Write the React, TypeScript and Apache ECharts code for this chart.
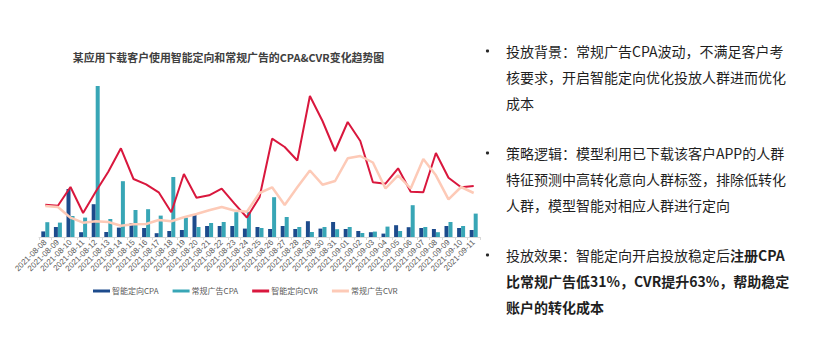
import React, { useEffect, useRef } from "react";
import * as echarts from "echarts";

const categories = [
  "2021-08-08", "2021-08-09", "2021-08-10", "2021-08-11", "2021-08-12", "2021-08-13", "2021-08-14",
  "2021-08-15", "2021-08-16", "2021-08-17", "2021-08-18", "2021-08-19", "2021-08-20", "2021-08-21",
  "2021-08-22", "2021-08-23", "2021-08-24", "2021-08-25", "2021-08-26", "2021-08-27", "2021-08-28",
  "2021-08-29", "2021-08-30", "2021-08-31", "2021-09-01", "2021-09-02", "2021-09-03", "2021-09-04",
  "2021-09-05", "2021-09-06", "2021-09-07", "2021-09-08", "2021-09-09", "2021-09-10", "2021-09-11",
];

const smartCPA = [
  2.8, 5, 24, 2.4, 16.4, 2.5, 4.7, 6.9, 4.5, 1.9, 3, 3.5, 11, 5.5, 5.5, 5.5, 4.2, 5, 4, 5.5, 4, 7.9,
  4.2, 7.5, 4, 3, 2.4, 1.7, 5.9, 4.9, 4.5, 4, 5.5, 4.5, 3.5,
];
const normalCPA = [
  7.4, 7.2, 10.5, 9.7, 75.5, 9, 27.9, 13.5, 13.9, 10.7, 30, 9.7, 5, 7, 7.5, 12.4, 12.5, 4.5, 19.9, 10,
  5, 2.5, 5, 3.9, 5, 2, 2.7, 5.2, 3, 15.9, 5, 2.4, 7.5, 5.5, 11.7,
];
const smartCVR = [
  3.23, 3.13, 5.0, 2.4, 4.53, 6.53, 8.87, 5.8, 5.27, 4.47, 2.47, 6.3, 3.93, 4.17, 4.83, 3.37, 1.95,
  3.97, 9.83, 9.0, 7.65, 14.1, 11.6, 8.6, 11.5, 9.6, 5.47, 5.33, 6.87, 4.53, 4.47, 8.4, 5.93, 4.97, 5.1,
];
const normalCVR = [
  3.1, 3.0, 1.93, 1.43, 1.57, 1.5, 1.13, 1.27, 1.3, 1.7, 1.57, 1.97, 2.3, 2.67, 3.0, 2.65, 2.53, 4.4,
  4.97, 3.2, 4.97, 6.65, 5.23, 5.6, 7.87, 8.1, 7.45, 4.85, 6.17, 4.85, 7.8, 6.17, 3.77, 5.0, 4.4,
];

const seriesNames = ["智能定向CPA", "常规广告CPA", "智能定向CVR", "常规广告CVR"];
const chartTitle = "某应用下载客户使用智能定向和常规广告的CPA&CVR变化趋势图";

const notes: { text: string; bullet: boolean; bold?: boolean; rich?: boolean }[] = [
  { text: "投放背景：常规广告CPA波动，不满足客户考", bullet: true },
  { text: "核要求，开启智能定向优化投放人群进而优化", bullet: false },
  { text: "成本", bullet: false },
  { text: "策略逻辑：模型利用已下载该客户APP的人群", bullet: true },
  { text: "特征预测中高转化意向人群标签，排除低转化", bullet: false },
  { text: "人群，模型智能对相应人群进行定向", bullet: false },
  { text: "{n|投放效果：智能定向开启投放稳定后}{b|注册CPA}", bullet: true, rich: true },
  { text: "比常规广告低31%，CVR提升63%，帮助稳定", bullet: false, bold: true },
  { text: "账户的转化成本", bullet: false, bold: true },
];
const noteY = [51, 77, 103, 153, 179, 205, 255, 281, 307];

const FONT = "'Noto Sans CJK SC', 'Noto Sans', sans-serif";

export default function App() {
  const ref = useRef<HTMLDivElement>(null);
  useEffect(() => {
    if (!ref.current) return;
    const chart = echarts.init(ref.current, undefined, { renderer: "svg" });
    const graphics: any[] = [
      {
        type: "text",
        x: 228.5,
        y: 57,
        style: {
          text: chartTitle,
          font: `bold 10.9px ${FONT}`,
          fill: "#404040",
          textAlign: "center",
          textVerticalAlign: "middle",
        },
      },
    ];
    notes.forEach((n, i) => {
      if (n.bullet) {
        graphics.push({
          type: "circle",
          shape: { cx: 487.5, cy: noteY[i], r: 1.6 },
          style: { fill: "#262626" },
        });
      }
      const style: any = {
        text: n.text,
        font: `${n.bold ? "bold " : ""}14px ${FONT}`,
        fill: "#1f1f1f",
        textAlign: "left",
        textVerticalAlign: "middle",
      };
      if (n.rich) {
        style.rich = {
          n: { font: `14px ${FONT}`, fill: "#1f1f1f" },
          b: { font: `bold 14px ${FONT}`, fill: "#1f1f1f" },
        };
      }
      graphics.push({ type: "text", x: 506, y: noteY[i], style });
    });

    chart.setOption({
      animation: false,
      backgroundColor: "#ffffff",
      grid: { left: 39, right: 335, top: 77, bottom: 118, containLabel: false },
      legend: {
        data: seriesNames,
        left: 93,
        top: 287,
        icon: "rect",
        itemWidth: 17,
        itemHeight: 3,
        itemGap: 14,
        padding: 0,
        textStyle: { fontSize: 8, color: "#595959", fontFamily: FONT, padding: [0, 0, 0, -3] },
      },
      xAxis: {
        type: "category",
        data: categories,
        axisLine: { lineStyle: { color: "#d9d9d9" } },
        axisTick: { show: true, length: 3, lineStyle: { color: "#d9d9d9" } },
        axisLabel: {
          interval: 0,
          rotate: 45,
          fontSize: 8,
          color: "#595959",
          fontFamily: "Liberation Sans, Arial, sans-serif",
          margin: 4,
        },
      },
      yAxis: [
        { type: "value", min: 0, max: 80, show: false, splitLine: { show: false } },
        { type: "value", min: 0, max: 16, show: false, splitLine: { show: false } },
      ],
      series: [
        {
          name: seriesNames[0],
          type: "bar",
          data: smartCPA,
          barWidth: 4,
          barGap: "0%",
          itemStyle: { color: "#1d4b8c" },
        },
        {
          name: seriesNames[1],
          type: "bar",
          data: normalCPA,
          barWidth: 4,
          barGap: "0%",
          itemStyle: { color: "#38a6b6" },
        },
        {
          name: seriesNames[2],
          type: "line",
          yAxisIndex: 1,
          data: smartCVR,
          symbol: "none",
          lineStyle: { color: "#d9173d", width: 2 },
          itemStyle: { color: "#d9173d" },
        },
        {
          name: seriesNames[3],
          type: "line",
          yAxisIndex: 1,
          data: normalCVR,
          symbol: "none",
          lineStyle: { color: "#fdcab7", width: 2.5 },
          itemStyle: { color: "#fdcab7" },
        },
      ],
      graphic: graphics,
    });
    return () => chart.dispose();
  }, []);
  return (
    <div
      ref={ref}
      style={{ position: "fixed", left: 0, top: 0, width: 815, height: 355, background: "#fff" }}
    />
  );
}
